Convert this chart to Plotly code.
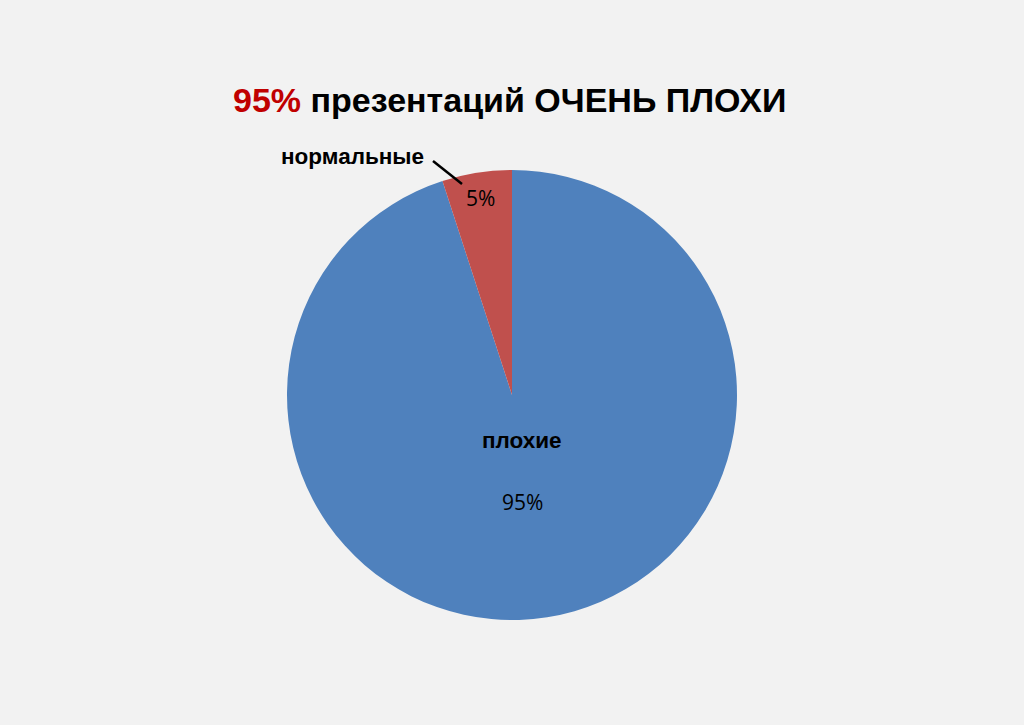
import plotly.graph_objects as go

labels = ["плохие", "нормальные"]
values = [95, 5]
colors = ["#4F81BD", "#C0504D"]
title_highlight = "95%"
title_rest = "презентаций ОЧЕНЬ ПЛОХИ"

total = sum(values)
pcts = [f"{round(v / total * 100)}%" for v in values]

W, H = 1024, 725
cx, cy, r = 512, 395, 225

fig = go.Figure(go.Pie(
    labels=labels, values=values, sort=False, direction="clockwise",
    rotation=0, marker=dict(colors=colors, line=dict(width=0)),
    textinfo="none", hoverinfo="label+percent", showlegend=False,
    domain=dict(x=[(cx - r) / W, (cx + r) / W], y=[(H - cy - r) / H, (H - cy + r) / H]),
))

def px(x, y):
    return x / W, 1 - y / H

def note(xp, yp, text, font):
    x, y = px(xp, yp)
    return dict(x=x, y=y, xref="paper", yref="paper", showarrow=False,
                xanchor="center", yanchor="middle", text=text, font=font)

bold = "Liberation Sans, Arial"
plain = "Open Sans, Liberation Sans"
ann = [
    note(509, 100, f"<b><span style='color:#C00000'>{title_highlight}</span> {title_rest}</b>",
         dict(family=bold, size=34, color="#000")),
    note(352, 157, f"<b>{labels[1]}</b>", dict(family=bold, size=22.5, color="#000")),
    note(480, 198, pcts[1], dict(family=plain, size=21, color="#000")),
    note(522, 440, f"<b>{labels[0]}</b>", dict(family=bold, size=22.5, color="#000")),
    note(522, 502, pcts[0], dict(family=plain, size=21, color="#000")),
]

x0, y0 = px(433, 161)
x1, y1 = px(462, 184)
shapes = [dict(type="line", xref="paper", yref="paper", x0=x0, y0=y0, x1=x1, y1=y1,
               line=dict(color="#000", width=2.5))]

fig.update_layout(width=W, height=H, margin=dict(l=0, r=0, t=0, b=0),
                  paper_bgcolor="#F2F2F2", plot_bgcolor="#F2F2F2",
                  annotations=ann, shapes=shapes)
fig.write_html("out.html", config=dict(displayModeBar=False),
               post_script="document.body.style.margin='0';document.body.style.padding='0';"
                           "document.body.style.overflow='hidden';")
